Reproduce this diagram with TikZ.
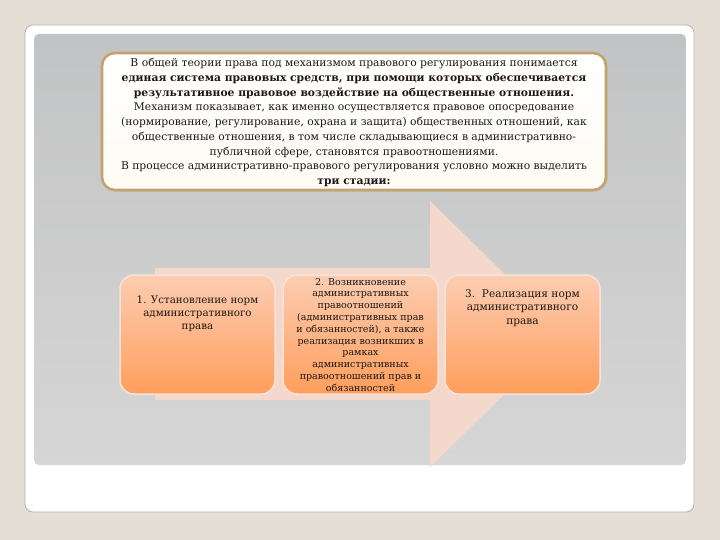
\documentclass[tikz,border=0pt]{standalone}
\usepackage{fontspec}
\setmainfont{DejaVu Serif}
\usetikzlibrary{shadows}
\definecolor{bgbeige}{HTML}{E4DED4}
\definecolor{cardedge}{HTML}{B4B0AA}
\definecolor{paneltop}{HTML}{C2C3C4}
\definecolor{panelbot}{HTML}{D6D6D6}
\definecolor{tanedge}{HTML}{C4A26C}
\definecolor{creamfill}{HTML}{FFFBF4}
\definecolor{arrowpeach}{HTML}{F4D8CC}
\definecolor{stagetop}{HTML}{FCCDB2}
\definecolor{stagebot}{HTML}{FF9E5C}
\definecolor{stageglow}{HTML}{F8E2D6}
\definecolor{inktext}{HTML}{1E1814}
\tikzset{
  introbox/.style={draw=tanedge, line width=2.6pt, rounded corners=13pt,
    top color=white, bottom color=creamfill,
    drop shadow={shadow xshift=1pt, shadow yshift=-1.5pt, opacity=0.25}},
  stagebox/.style={draw=stageglow, line width=1.5pt, rounded corners=14pt,
    top color=stagetop, bottom color=stagebot,
    minimum width=155pt, minimum height=119pt, inner sep=0pt},
  stagetext/.style={anchor=north, align=center, text=inktext, inner sep=0pt},
  introtext/.style={align=center, text=inktext, inner sep=0pt},
}
\begin{document}
\begin{tikzpicture}[x=1pt,y=-1pt]
\useasboundingbox (0,0) rectangle (720,540);
% background
\fill[bgbeige] (0,0) rectangle (720,540);
% white card
\draw[cardedge, line width=0.8pt, fill=white, rounded corners=8pt] (25,25) rectangle (694,512);
% gray panel
\shade[top color=paneltop, bottom color=panelbot, rounded corners=5pt] (34,34) rectangle (686,465);
% big arrow
\fill[arrowpeach] (155,268) -- (430,268) -- (430,201) -- (566,334) -- (430,467) -- (430,400) -- (155,400) -- cycle;
% intro box
\node[introbox, minimum width=504pt, minimum height=137pt] (intro) at (354,121.5) {};
\node[introtext, font=\fontsize{10.75}{14.75}\selectfont] (introtxt) at (354,122.5) {%
В общей теории права под механизмом правового регулирования понимается\\
\textbf{единая система правовых средств, при помощи которых обеспечивается}\\
\textbf{результативное правовое воздействие на общественные отношения.}\\
Механизм показывает, как именно осуществляется правовое опосредование\\
(нормирование, регулирование, охрана и защита) общественных отношений, как\\
общественные отношения, в том числе складывающиеся в административно-\\
публичной сфере, становятся правоотношениями.\\
В процессе административно-правового регулирования условно можно выделить\\
\textbf{три стадии:}};
% stage boxes
\node[stagebox] (s1) at (197.5,334.5) {};
\node[stagebox] (s2) at (360.5,334.5) {};
\node[stagebox] (s3) at (522.5,334.5) {};
\node[stagetext, font=\fontsize{10.3}{13}\selectfont] (t1) at ([yshift=-21pt]s1.north) {%
1. Установление норм\\административного\\права};
\node[stagetext, font=\fontsize{9.5}{11.8}\selectfont] (t2) at ([yshift=-3.5pt]s2.north) {%
2. Возникновение\\административных\\правоотношений\\(административных прав\\и обязанностей), а также\\реализация возникших в\\рамках\\административных\\правоотношений прав и\\обязанностей};
\node[stagetext, font=\fontsize{10.6}{13.6}\selectfont] (t3) at ([yshift=-15pt]s3.north) {%
3.\ \ Реализация норм\\административного\\права};
\end{tikzpicture}
\end{document}
